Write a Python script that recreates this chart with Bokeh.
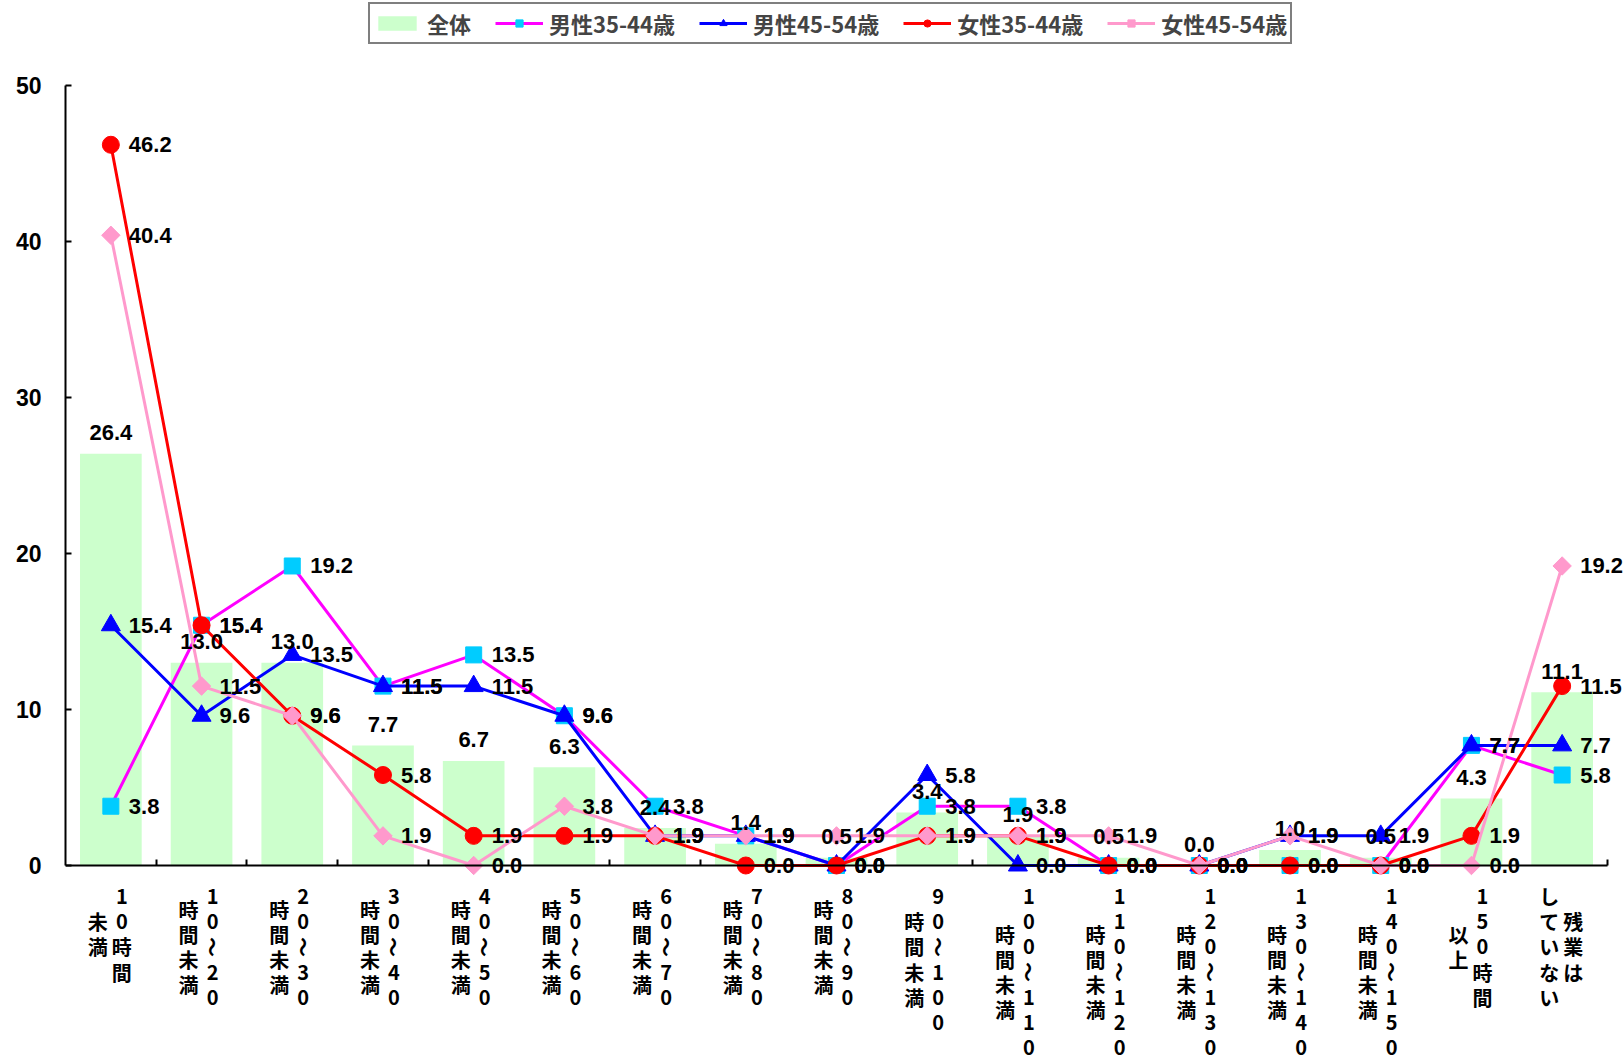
import math
from bokeh.plotting import figure
from bokeh.models import (ColumnDataSource, LabelSet, Legend, LegendItem,
                          Range1d, FixedTicker)
from bokeh.core.properties import value
from bokeh.embed import file_html
from bokeh.resources import INLINE

# ---------------- data ----------------
categories = ["10時間未満", "10～20時間未満", "20～30時間未満", "30～40時間未満",
              "40～50時間未満", "50～60時間未満", "60～70時間未満", "70～80時間未満",
              "80～90時間未満", "90～100時間未満", "100～110時間未満", "110～120時間未満",
              "120～130時間未満", "130～140時間未満", "140～150時間未満", "150時間以上",
              "残業はしていない"]
# vertical label columns (first = rightmost column)
label_columns = [["10時間", "未満"], ["10～20", "時間未満"], ["20～30", "時間未満"],
                 ["30～40", "時間未満"], ["40～50", "時間未満"], ["50～60", "時間未満"],
                 ["60～70", "時間未満"], ["70～80", "時間未満"], ["80～90", "時間未満"],
                 ["90～100", "時間未満"], ["100～110", "時間未満"], ["110～120", "時間未満"],
                 ["120～130", "時間未満"], ["130～140", "時間未満"], ["140～150", "時間未満"],
                 ["150時間", "以上"], ["残業は", "していない"]]
total = [26.4, 13.0, 13.0, 7.7, 6.7, 6.3, 2.4, 1.4, 0.5, 3.4, 1.9, 0.5, 0.0, 1.0, 0.5, 4.3, 11.1]
male_35_44 = [3.8, 15.4, 19.2, 11.5, 13.5, 9.6, 3.8, 1.9, 0.0, 3.8, 3.8, 0.0, 0.0, 0.0, 0.0, 7.7, 5.8]
male_45_54 = [15.4, 9.6, 13.5, 11.5, 11.5, 9.6, 1.9, 1.9, 0.0, 5.8, 0.0, 0.0, 0.0, 1.9, 1.9, 7.7, 7.7]
female_35_44 = [46.2, 15.4, 9.6, 5.8, 1.9, 1.9, 1.9, 0.0, 0.0, 1.9, 1.9, 0.0, 0.0, 0.0, 0.0, 1.9, 11.5]
female_45_54 = [40.4, 11.5, 9.6, 1.9, 0.0, 3.8, 1.9, 1.9, 1.9, 1.9, 1.9, 1.9, 0.0, 1.9, 0.0, 0.0, 19.2]
series_names = ["全体", "男性35-44歳", "男性45-54歳", "女性35-44歳", "女性45-54歳"]
y_ticks = [0, 10, 20, 30, 40, 50]

# ---------------- styles / layout ----------------
BAR_COLOR = "#CCFFCC"
LABEL_FONT = value("Liberation Sans")
JP_FONT = value("Noto Sans CJK JP")
WIDTH = 1623
HEIGHT = 1062
LEFT_PX = 65.0           # pixel column of the y axis
AXIS_END_PX = 1607.0     # pixel column where the x axis ends
ZERO_PX = 865.0          # pixel row of value 0
TOP_PX = 85.0            # pixel row of value 50
PPU = (ZERO_PX - TOP_PX) / 50.0
Y_END = ZERO_PX / PPU
Y_START = -(HEIGHT - ZERO_PX) / PPU

n = len(categories)
xs = list(range(n))
CAT_PX = (AXIS_END_PX - LEFT_PX) / n
X_END = n - 0.5 + (WIDTH - AXIS_END_PX) / CAT_PX

p = figure(width=WIDTH, height=HEIGHT, output_backend="svg", toolbar_location=None,
           x_range=Range1d(-0.5, X_END), y_range=Range1d(Y_START, Y_END),
           min_border_left=int(LEFT_PX), min_border_right=0, min_border_top=0,
           min_border_bottom=0)
p.outline_line_color = None
p.xgrid.visible = False
p.ygrid.visible = False
p.background_fill_color = "white"

# axes
p.yaxis.ticker = FixedTicker(ticks=y_ticks)
p.yaxis.bounds = (0, 50)
p.yaxis.major_tick_in = 6
p.yaxis.major_tick_out = 0
p.yaxis.minor_tick_line_color = None
p.yaxis.axis_line_width = 2
p.yaxis.major_tick_line_width = 2
p.yaxis.major_label_text_font = "Liberation Sans"
p.yaxis.major_label_text_font_size = "23px"
p.yaxis.major_label_text_font_style = "bold"
p.yaxis.major_label_text_color = "black"
p.yaxis.major_label_standoff = 24

boundary_ticks = [i + 0.5 for i in range(n)]
p.xaxis.fixed_location = 0
p.xaxis.bounds = (-0.5, n - 0.5)
p.xaxis.ticker = FixedTicker(ticks=boundary_ticks)
p.xaxis.major_label_overrides = {t: "" for t in boundary_ticks}
p.xaxis.major_tick_in = 6
p.xaxis.major_tick_out = 0
p.xaxis.minor_tick_line_color = None
p.xaxis.axis_line_width = 2
p.xaxis.major_tick_line_width = 2

# bars
src = ColumnDataSource(dict(x=xs, total=total, m1=male_35_44, m2=male_45_54,
                            f1=female_35_44, f2=female_45_54,
                            t_total=[f"{v:.1f}" for v in total],
                            t_m1=[f"{v:.1f}" for v in male_35_44],
                            t_m2=[f"{v:.1f}" for v in male_45_54],
                            t_f1=[f"{v:.1f}" for v in female_35_44],
                            t_f2=[f"{v:.1f}" for v in female_45_54]))
bar_r = p.vbar(x="x", top="total", width=0.68, source=src,
               fill_color=BAR_COLOR, line_color=None)

series = [
    ("m1", "#FF00FF", "square", "#00CCFF", 16, 0.0),
    ("m2", "#0000FF", "triangle", "#0000FF", 19, 0.0),
    ("f1", "#FF0000", "circle", "#FF0000", 17, 0.0),
    ("f2", "#FF99CC", "square", "#FF99CC", 13, math.pi / 4),
]
legend_items = [LegendItem(label=series_names[0], renderers=[bar_r])]
for (col, lc, mk, mc, sz, ang), name in zip(series, series_names[1:]):
    lr = p.line(x="x", y=col, source=src, line_color=lc, line_width=3)
    mr = p.scatter(x="x", y=col, source=src, marker=mk, size=sz, angle=ang,
                   fill_color=mc, line_color=mc)
    legend_items.append(LegendItem(label=name, renderers=[lr, mr]))

# data labels
p.add_layout(LabelSet(x="x", y="total", text="t_total", source=src,
                      text_align="center", text_baseline="middle", y_offset=21,
                      text_font=LABEL_FONT, text_font_size="22px",
                      text_font_style="bold", text_color="black"))
for col, *_ in series:
    p.add_layout(LabelSet(x="x", y=col, text="t_" + col, source=src,
                          text_align="left", text_baseline="middle", x_offset=18,
                          text_font=LABEL_FONT, text_font_size="22px",
                          text_font_style="bold", text_color="black"))

# vertical category labels
cx, cxo, cyo, ctext, cang = [], [], [], [], []
ROW = 25.2
COL_OFFS = [11, -13]
for i, cols in enumerate(label_columns):
    maxlen = max(len(c) for c in cols)
    for j, colstr in enumerate(cols):
        start = (maxlen - len(colstr)) / 2.0
        for k, ch in enumerate(colstr):
            cx.append(i)
            cxo.append(COL_OFFS[j])
            cyo.append(-(31 + (start + k) * ROW))
            ctext.append(ch)
            cang.append(-math.pi / 2 if ch == "～" else 0.0)
csrc = ColumnDataSource(dict(x=cx, y=[0] * len(cx), xo=cxo, yo=cyo, t=ctext, a=cang))
p.add_layout(LabelSet(x="x", y="y", text="t", x_offset="xo", y_offset="yo",
                      angle="a", source=csrc, text_align="center",
                      text_baseline="middle", text_font=JP_FONT,
                      text_font_size="20px", text_font_style="bold",
                      text_color="black"))

legend = Legend(items=legend_items, orientation="horizontal",
                location=(368 - LEFT_PX, HEIGHT - 44),
                border_line_color="black", border_line_width=2.5,
                label_text_font="Noto Sans CJK JP", label_text_font_style="bold",
                label_text_font_size="22px", glyph_width=48, glyph_height=18,
                label_standoff=6, spacing=24, padding=3, margin=0,
                background_fill_color="white")
p.add_layout(legend, "center")

open("out.html", "w").write(file_html(p, INLINE))
